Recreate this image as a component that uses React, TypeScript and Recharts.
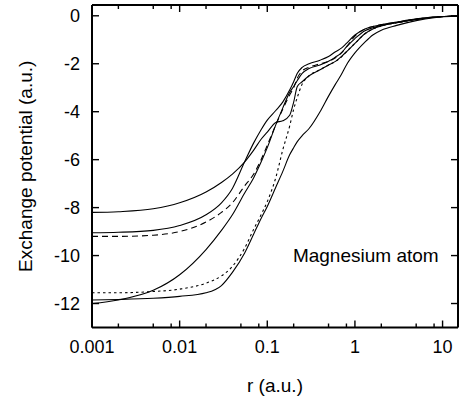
import { LineChart, Line, XAxis, YAxis, ReferenceDot } from "recharts";

// radial grid (a.u.), shared by all curves
const rGrid = [
  0.001, 0.002, 0.005, 0.01, 0.02, 0.03, 0.04, 0.055, 0.07, 0.085, 0.1, 0.125,
  0.15, 0.18, 0.2, 0.22, 0.25, 0.3, 0.4, 0.5, 0.6, 0.7, 0.8, 1, 1.3, 1.6, 2, 3,
  5, 8, 15,
];

// solid, starts at -8.2, has the small plateau near r = 0.15
const solidShallow = [
  -8.2, -8.17, -8.05, -7.8, -7.35, -6.95, -6.6, -6.1, -5.6, -5.15, -4.85,
  -4.45, -4.38, -4.15, -3.6, -2.95, -2.75, -2.5, -2.25, -2.05, -1.9, -1.7,
  -1.5, -1.15, -0.75, -0.55, -0.42, -0.29, -0.15, -0.06, -0.01,
];

// solid, starts at -9.05, becomes the upper envelope
const solidUpper = [
  -9.05, -9.03, -8.95, -8.75, -8.3, -7.8, -7.2, -6.1, -5.3, -4.75, -4.35,
  -3.95, -3.6, -3.1, -2.75, -2.4, -2.15, -2.0, -1.85, -1.7, -1.5, -1.35, -1.15,
  -0.8, -0.55, -0.45, -0.37, -0.26, -0.13, -0.05, -0.01,
];

// dashed, starts at -9.2
const dashed = [
  -9.2, -9.2, -9.15, -9.0, -8.6, -8.2, -7.8, -7.1, -6.6, -6.0, -5.4, -4.55,
  -3.9, -3.3, -3.0, -2.6, -2.3, -2.15, -2.0, -1.9, -1.75, -1.55, -1.3, -0.85,
  -0.55, -0.45, -0.37, -0.27, -0.14, -0.05, -0.01,
];

// solid, starts at -12, steep rise
const solidSteep = [
  -12.0, -11.85, -11.45, -10.8, -9.75, -8.95, -8.3, -7.4, -6.75, -6.1, -5.5,
  -4.55, -3.85, -3.2, -2.95, -2.7, -2.4, -2.2, -2.05, -1.9, -1.72, -1.55, -1.3,
  -0.95, -0.62, -0.5, -0.4, -0.28, -0.15, -0.06, -0.01,
];

// dotted, starts at -11.55
const dotted = [
  -11.55, -11.55, -11.5, -11.4, -11.15, -10.85, -10.45, -9.7, -8.9, -8.3,
  -7.75, -6.75, -5.6, -4.6, -3.9, -3.4, -2.85, -2.5, -2.25, -2.05, -1.9, -1.72,
  -1.5, -1.15, -0.75, -0.55, -0.42, -0.29, -0.15, -0.06, -0.01,
];

// solid, starts at -11.85, rightmost curve
const solidOuter = [
  -11.85, -11.83, -11.78, -11.7, -11.55, -11.25, -10.7, -9.9, -9.1, -8.45,
  -7.95, -7.15, -6.5, -5.8, -5.5, -5.25, -5.0, -4.7, -4.0, -3.35, -2.85, -2.45,
  -2.05, -1.55, -1.1, -0.8, -0.6, -0.4, -0.2, -0.08, -0.02,
];

const xTicks = [
  0.001, 0.002, 0.005, 0.008, 0.01, 0.02, 0.05, 0.08, 0.1, 0.2, 0.5, 0.8, 1, 2,
  5, 8, 10,
];
const xMajor = [0.001, 0.01, 0.1, 1, 10];
const yTicks = [0, -2, -4, -6, -8, -10, -12];

const annotation = { r: 1.33, y: -10, text: "Magnesium atom" };

const series = [
  { key: "shallow", values: solidShallow, dash: undefined },
  { key: "upper", values: solidUpper, dash: undefined },
  { key: "dashed", values: dashed, dash: "6 4" },
  { key: "steep", values: solidSteep, dash: undefined },
  { key: "dotted", values: dotted, dash: "2.5 3" },
  { key: "outer", values: solidOuter, dash: undefined },
];

const data = rGrid.map((r, i) => {
  const row: Record<string, number> = { r };
  series.forEach((s) => (row[s.key] = s.values[i]));
  return row;
});

const FONT = "'Liberation Sans', Arial, Helvetica, sans-serif";

function XTick({ x, y, payload, side }: any) {
  const major = xMajor.includes(payload.value);
  const len = major ? 7 : 4;
  const dir = side === "bottom" ? -1 : 1;
  return (
    <g>
      <line x1={x} x2={x} y1={y} y2={y + dir * len} stroke="#000" strokeWidth={1.4} />
      {side === "bottom" && major && (
        <text x={x} y={y + 25.5} textAnchor="middle" fontSize={18} fill="#000" fontFamily={FONT}>
          {payload.value}
        </text>
      )}
    </g>
  );
}

function YTick({ x, y, payload, side }: any) {
  const dir = side === "left" ? 1 : -1;
  return (
    <g>
      <line x1={x} x2={x + dir * 7} y1={y} y2={y} stroke="#000" strokeWidth={1.4} />
      {side === "left" && (
        <text x={x - 12} y={y + 6.5} textAnchor="end" fontSize={18} fill="#000" fontFamily={FONT}>
          {payload.value}
        </text>
      )}
    </g>
  );
}

const axisLine = { stroke: "#000", strokeWidth: 2 };

export default function App() {
  return (
    <div style={{ width: 459, height: 401, background: "#fff", fontFamily: FONT }}>
      <style>{`body { margin: 0; }`}</style>
      <LineChart width={459} height={401} data={data} margin={{ top: 4, right: 0, bottom: 0, left: 0 }}>
        <XAxis
          xAxisId="bottom"
          dataKey="r"
          type="number"
          scale="log"
          domain={[0.001, 15]}
          allowDataOverflow
          ticks={xTicks}
          interval={0}
          height={73.5}
          tickSize={0}
          tickMargin={0}
          tickLine={false}
          axisLine={axisLine}
          tick={(p: any) => <XTick {...p} side="bottom" />}
          label={{
            content: ({ viewBox }: any) => (
              <text
                x={viewBox.x + viewBox.width / 2}
                y={viewBox.y + 64}
                textAnchor="middle"
                fontSize={19}
                fill="#000"
                fontFamily={FONT}
              >
                r (a.u.)
              </text>
            ),
          }}
        />
        <XAxis
          xAxisId="top"
          orientation="top"
          dataKey="r"
          type="number"
          scale="log"
          domain={[0.001, 15]}
          allowDataOverflow
          ticks={xTicks}
          interval={0}
          height={1}
          tickSize={0}
          tickMargin={0}
          tickLine={false}
          axisLine={axisLine}
          tick={(p: any) => <XTick {...p} side="top" />}
        />
        <YAxis
          yAxisId="left"
          type="number"
          domain={[-13, 0.45]}
          allowDataOverflow
          ticks={yTicks}
          interval={0}
          width={92}
          tickSize={0}
          tickMargin={0}
          tickLine={false}
          axisLine={axisLine}
          tick={(p: any) => <YTick {...p} side="left" />}
          label={{
            content: ({ viewBox }: any) => {
              const cx = viewBox.x + 25;
              const cy = viewBox.y + viewBox.height / 2;
              return (
                <text
                  x={cx}
                  y={cy}
                  transform={`rotate(-90 ${cx} ${cy})`}
                  textAnchor="middle"
                  dominantBaseline="central"
                  fontSize={19}
                  fill="#000"
                  fontFamily={FONT}
                >
                  Exchange potential (a.u.)
                </text>
              );
            },
          }}
        />
        <YAxis
          yAxisId="right"
          orientation="right"
          type="number"
          domain={[-13, 0.45]}
          allowDataOverflow
          ticks={yTicks}
          interval={0}
          width={1}
          tickSize={0}
          tickMargin={0}
          tickLine={false}
          axisLine={axisLine}
          tick={(p: any) => <YTick {...p} side="right" />}
        />
        {series.map((s) => (
          <Line
            key={s.key}
            xAxisId="bottom"
            yAxisId="left"
            dataKey={s.key}
            type="monotone"
            stroke="#000"
            strokeWidth={1.1}
            strokeDasharray={s.dash}
            dot={false}
            activeDot={false}
            isAnimationActive={false}
          />
        ))}
        <ReferenceDot
          xAxisId="bottom"
          yAxisId="left"
          x={annotation.r}
          y={annotation.y}
          r={1}
          fill="none"
          stroke="none"
          label={{
            value: annotation.text,
            position: "center",
            fontSize: 19,
            fill: "#000",
            fontFamily: FONT,
          }}
        />
      </LineChart>
    </div>
  );
}
